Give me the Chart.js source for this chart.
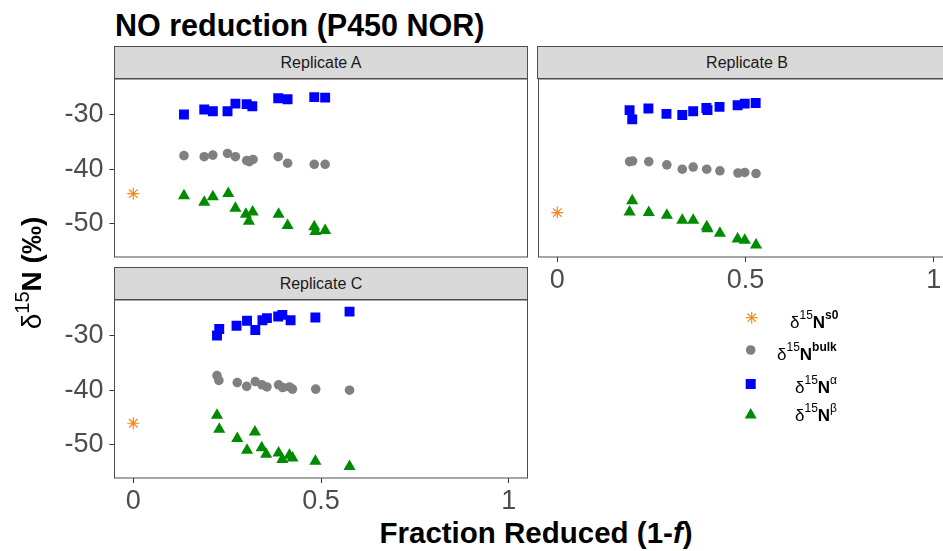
<!DOCTYPE html>
<html>
<head>
<meta charset="utf-8">
<script src="https://cdn.jsdelivr.net/npm/chart.js@4/dist/chart.umd.min.js"></script>
<style>
  html, body { margin: 0; padding: 0; background: #fff; overflow: hidden; }
  body { width: 943px; height: 551px; position: relative; font-family: "Liberation Sans", Arial, sans-serif; }
  canvas { position: absolute; }
  .strip { position: absolute; box-sizing: border-box; height: 33px; background: #D9D9D9; border: 1px solid #4d4d4d;
           font-size: 16px; color: #1a1a1a; text-align: center; line-height: 31px; }
  .title { position: absolute; left: 115px; top: 10px; font-size: 30.5px; line-height: 30px; font-weight: bold; color: #000; white-space: nowrap; }
  .xtitle { position: absolute; left: 536px; top: 518px; transform: translateX(-50%); font-size: 29.5px; line-height: 29px; font-weight: bold; white-space: nowrap; }
  .ytitle { position: absolute; left: 33px; top: 273px; transform: translate(-50%, -50%) rotate(-90deg); font-size: 28px; line-height: 28px; white-space: nowrap; }
  .ytitle .sup { font-size: 20px; position: relative; top: -0.6em; }
  .leg { position: absolute; font-size: 17px; line-height: 17px; white-space: nowrap; color: #000; }
  .leg .sup { font-size: 12px; position: relative; top: -0.75em; }
  svg { position: absolute; left: 0; top: 0; }
</style>
</head>
<body>
<div class="title">NO reduction (P450 NOR)</div>

<div class="strip" style="left:114px; top:46px; width:414px;">Replicate A</div>
<div class="strip" style="left:537px; top:46px; width:420px;">Replicate B</div>
<div class="strip" style="left:114px; top:267px; width:414px;">Replicate C</div>

<canvas id="panelA" width="529" height="180" style="left:0; top:78px;"></canvas>
<canvas id="panelB" width="417" height="213" style="left:537px; top:78px;"></canvas>
<canvas id="panelC" width="529" height="213" style="left:0; top:299px;"></canvas>

<div class="ytitle">δ<span class="sup">15</span><b>N (‰)</b></div>
<div class="xtitle">Fraction Reduced (1-<i>f</i>)</div>

<svg width="943" height="551">
  <g stroke="#F7861C" stroke-width="1.2">
    <line x1="745.7" y1="317.7" x2="757.7" y2="317.7"/>
    <line x1="751.7" y1="311.7" x2="751.7" y2="323.7"/>
    <line x1="747.5" y1="313.5" x2="755.9" y2="321.9"/>
    <line x1="747.5" y1="321.9" x2="755.9" y2="313.5"/>
  </g>
  <circle cx="750.7" cy="350" r="4.8" fill="#808080"/>
  <rect x="745.7" y="379" width="10" height="10" fill="#0000FF"/>
  <polygon points="750.7,408 756.7,418.5 744.7,418.5" fill="#008B00"/>
</svg>
<div class="leg" style="left:790px; top:314px;">δ<span class="sup">15</span><b>N</b><span class="sup"><b>s0</b></span></div>
<div class="leg" style="left:777px; top:346px;">δ<span class="sup">15</span><b>N</b><span class="sup"><b>bulk</b></span></div>
<div class="leg" style="left:795px; top:379px;">δ<span class="sup">15</span><b>N</b><span class="sup">α</span></div>
<div class="leg" style="left:795px; top:407px;">δ<span class="sup">15</span><b>N</b><span class="sup">β</span></div>

<script>
// tick positions
const xTicks = [0, 0.5, 1];
const yTicks = [-50, -40, -30];

// Replicate A
const aS0X = [0];
const aS0Y = [-44.5];
const aBulkX = [0.135, 0.189, 0.212, 0.251, 0.272, 0.302, 0.309, 0.319, 0.386, 0.411, 0.482, 0.511];
const aBulkY = [-37.5, -37.7, -37.4, -37.1, -37.7, -38.4, -38.6, -38.2, -37.7, -38.9, -39.1, -39.1];
const aAlphaX = [0.135, 0.189, 0.212, 0.251, 0.272, 0.302, 0.317, 0.386, 0.411, 0.482, 0.511];
const aAlphaY = [-29.9, -29.0, -29.3, -29.3, -27.9, -28.0, -28.4, -26.9, -27.1, -26.7, -26.8];
const aBetaX = [0.135, 0.189, 0.212, 0.253, 0.272, 0.300, 0.308, 0.318, 0.387, 0.411, 0.482, 0.485, 0.511];
const aBetaY = [-44.9, -46.1, -45.1, -44.5, -47.2, -48.3, -49.6, -47.9, -48.3, -50.4, -50.6, -51.5, -51.3];

// Replicate B
const bS0X = [0];
const bS0Y = [-48.0];
const bBulkX = [0.192, 0.200, 0.243, 0.291, 0.332, 0.361, 0.397, 0.432, 0.480, 0.498, 0.528];
const bBulkY = [-38.6, -38.5, -38.6, -39.2, -40.0, -39.6, -40.0, -40.3, -40.7, -40.6, -40.8];
const bAlphaX = [0.192, 0.199, 0.242, 0.290, 0.332, 0.361, 0.396, 0.399, 0.431, 0.479, 0.498, 0.527];
const bAlphaY = [-29.1, -30.8, -28.8, -29.8, -30.0, -29.3, -28.7, -29.1, -28.5, -28.2, -27.9, -27.8];
const bBetaX = [0.199, 0.192, 0.243, 0.291, 0.332, 0.361, 0.397, 0.399, 0.432, 0.479, 0.498, 0.528];
const bBetaY = [-45.8, -47.9, -48.0, -48.5, -49.4, -49.4, -50.6, -51.0, -51.8, -52.9, -53.1, -54.0];

// Replicate C
const cS0X = [0];
const cS0Y = [-46.1];
const cBulkX = [0.223, 0.228, 0.277, 0.302, 0.325, 0.343, 0.356, 0.387, 0.398, 0.416, 0.424, 0.486, 0.576];
const cBulkY = [-37.3, -38.2, -38.6, -39.3, -38.4, -39.0, -39.4, -39.0, -39.5, -39.4, -39.8, -39.8, -40.0];
const cAlphaX = [0.223, 0.229, 0.275, 0.303, 0.325, 0.344, 0.356, 0.386, 0.397, 0.419, 0.485, 0.576];
const cAlphaY = [-29.9, -28.7, -28.1, -27.2, -28.9, -27.1, -26.7, -26.4, -26.1, -27.1, -26.6, -25.5];
const cBetaX = [0.223, 0.229, 0.277, 0.303, 0.324, 0.342, 0.354, 0.387, 0.397, 0.416, 0.424, 0.485, 0.576];
const cBetaY = [-44.6, -47.2, -48.9, -51.1, -47.7, -50.6, -51.8, -51.6, -52.8, -52.0, -52.5, -53.1, -54.1];

const pts = (xs, ys) => xs.map((x, i) => ({x: x, y: ys[i]}));

// draws the full box round each panel
const panelBorder = {
    id: 'panelBorder',
    afterDatasetsDraw(chart) {
        const {ctx, chartArea: a} = chart;
        ctx.save();
        ctx.strokeStyle = '#4d4d4d';
        ctx.lineWidth = 1;
        ctx.strokeRect(a.left, a.top, a.right - a.left, a.bottom - a.top);
        ctx.restore();
    }
};

const tickFont = {family: '"Liberation Sans", Arial, sans-serif', size: 27};

// fixed axis sizes, and no extra room for labels hanging past the ends
function fixSize(s, w, h) {
    if (w !== null) s.width = w;
    if (h !== null) s.height = h;
    s.paddingTop = 0;
    s.paddingBottom = 0;
    s.paddingLeft = 0;
    s.paddingRight = 0;
}

function makePanel(id, d, showX, showY, padding) {
    new Chart(document.getElementById(id), {
        type: 'scatter',
        data: {
            datasets: [
                {data: pts(d.s0x, d.s0y), pointStyle: 'star', pointRadius: 6, borderColor: '#F7861C', borderWidth: 1.2, backgroundColor: 'rgba(0,0,0,0)'},
                {data: pts(d.bulkx, d.bulky), pointStyle: 'circle', pointRadius: 4.8, backgroundColor: '#808080', borderWidth: 0},
                {data: pts(d.alphax, d.alphay), pointStyle: 'rect', pointRadius: 7, backgroundColor: '#0000FF', borderWidth: 0},
                {data: pts(d.betax, d.betay), pointStyle: 'triangle', pointRadius: 7, backgroundColor: '#008B00', borderWidth: 0}
            ]
        },
        options: {
            responsive: false,
            animation: false,
            devicePixelRatio: 1,
            layout: {padding: padding, autoPadding: false},
            plugins: {legend: {display: false}, tooltip: {enabled: false}},
            scales: {
                x: {
                    type: 'linear',
                    min: -0.05,
                    max: 1.05,
                    display: showX,
                    afterBuildTicks: s => { s.ticks = xTicks.map(v => ({value: v})); },
                    afterFit: s => fixSize(s, null, showX ? 34 : 0),
                    grid: {drawOnChartArea: false, drawTicks: true, tickLength: 5, color: '#333333'},
                    border: {display: false},
                    ticks: {autoSkip: false, maxRotation: 0, padding: 2, font: tickFont, color: '#4D4D4D', callback: v => String(v)}
                },
                y: {
                    type: 'linear',
                    min: -56.2,
                    max: -23.36,
                    display: showY,
                    afterBuildTicks: s => { s.ticks = yTicks.map(v => ({value: v})); },
                    afterFit: s => fixSize(s, showY ? 114.5 : 0, null),
                    grid: {drawOnChartArea: false, drawTicks: true, tickLength: 5, color: '#333333'},
                    border: {display: false},
                    ticks: {autoSkip: false, padding: 6, font: tickFont, color: '#4D4D4D', callback: v => String(v)}
                }
            }
        },
        plugins: [panelBorder]
    });
}

makePanel('panelA', {s0x: aS0X, s0y: aS0Y, bulkx: aBulkX, bulky: aBulkY, alphax: aAlphaX, alphay: aAlphaY, betax: aBetaX, betay: aBetaY},
    false, true, {top: 1, right: 1.5, bottom: 1, left: 0});
makePanel('panelB', {s0x: bS0X, s0y: bS0Y, bulkx: bBulkX, bulky: bBulkY, alphax: bAlphaX, alphay: bAlphaY, betax: bBetaX, betay: bBetaY},
    true, false, {top: 1, right: 1.5, bottom: 0, left: 1.5});
makePanel('panelC', {s0x: cS0X, s0y: cS0Y, bulkx: cBulkX, bulky: cBulkY, alphax: cAlphaX, alphay: cAlphaY, betax: cBetaX, betay: cBetaY},
    true, true, {top: 1, right: 1.5, bottom: 0, left: 0});
</script>
</body>
</html>
